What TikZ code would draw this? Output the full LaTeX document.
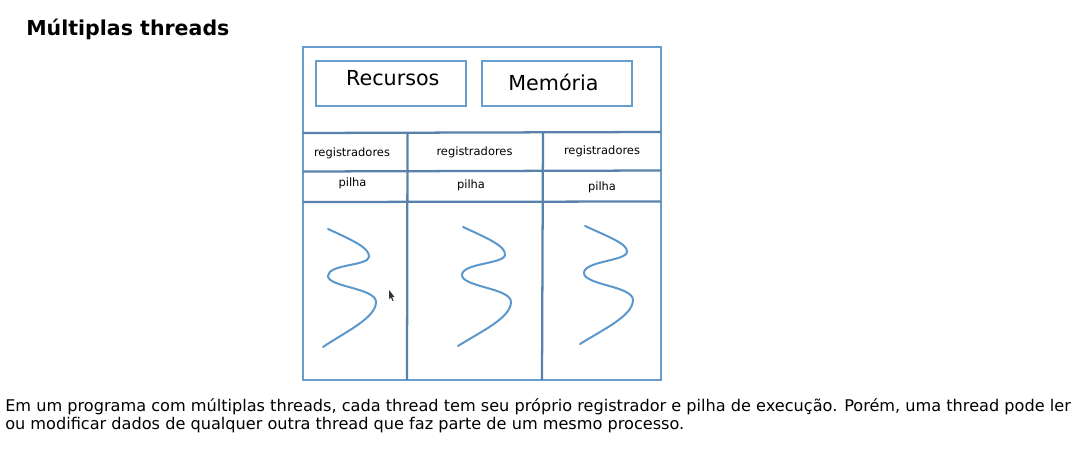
\documentclass[tikz,border=0pt]{standalone}
\usepackage{fontspec}
\setmainfont{DejaVu Sans}
\begin{document}
\begin{tikzpicture}[x=0.75pt,y=-0.75pt,
  boxline/.style={draw=boxblue,line width=1.6pt},
  divline/.style={draw=divblue,line width=1.7pt},
  squig/.style={draw=squigblue,line width=1.5pt,line cap=round},
  bigbox/.style={draw=boxblue,line width=1.5pt,minimum width=112.5pt,minimum height=33.75pt,inner sep=0pt},
  bigtext/.style={font=\fontsize{15.5}{17}\selectfont},
  smalltext/.style={font=\fontsize{8.6}{10}\selectfont,inner sep=0pt},
]
\definecolor{boxblue}{RGB}{104,158,206}
\definecolor{divblue}{RGB}{88,130,172}
\definecolor{squigblue}{RGB}{92,152,204}
\useasboundingbox (0,0) rectangle (1085,453);
% title
\node[anchor=west,inner sep=0pt,font=\bfseries\fontsize{15.4}{17}\selectfont] (title) at (26,29) {Múltiplas threads};
% outer frame
\draw[boxline] (303,47) rectangle (661,380);
% top boxes
\node[bigbox] (recbox) at (391,83.5) {};
\node[bigbox] (membox) at (557,83.5) {};
\node[bigtext,inner sep=0pt] (rec) at (392.8,78.3) {Recursos};
\node[bigtext,inner sep=0pt] (mem) at (553.5,82.7) {Memória};
% row dividers
\draw[divline] (303,133) -- (661,132);
\draw[divline] (303,171.5) -- (661,170.5);
\draw[divline] (303,202) -- (661,201.5);
% column dividers
\draw[divline] (407.5,134) -- (407,380);
\draw[divline] (543,133) -- (542,380);
% labels
\node[smalltext] (r1) at (352,153.5) {registradores};
\node[smalltext] (r2) at (474.5,152.5) {registradores};
\node[smalltext] (r3) at (602,151.5) {registradores};
\node[smalltext] (p1) at (352.5,183.5) {pilha};
\node[smalltext] (p2) at (471,185.5) {pilha};
\node[smalltext] (p3) at (602,187) {pilha};
% squiggles
\draw[squig] (328,229) .. controls (352,240) and (370,248) .. (369,257)
  .. controls (368,266) and (328,264) .. (328,276)
  .. controls (328,287) and (376,288) .. (376,302)
  .. controls (376,318) and (345,332) .. (323,347);
\draw[squig] (463,227) .. controls (487,238) and (506,246) .. (505,255)
  .. controls (504,264) and (462,263) .. (462,275)
  .. controls (462,287) and (511,288) .. (511,302)
  .. controls (511,318) and (480,332) .. (458,346);
\draw[squig] (585,226) .. controls (609,237) and (628,244) .. (627,252)
  .. controls (626,261) and (584,261) .. (584,273)
  .. controls (584,285) and (633,286) .. (633,300)
  .. controls (633,316) and (602,330) .. (580,344);
% cursor
\fill[black!80] (389,290) -- (389,299) -- (391,297.5) -- (392.5,301) -- (393.5,300.5) -- (392,297) -- (394.5,297) -- cycle;
% caption
\node[anchor=north west,inner sep=0pt,align=left,font=\fontsize{12.1}{13.5}\selectfont] (cap) at (5,398) {Em um programa com múltiplas threads, cada thread tem seu próprio registrador e pilha de execução. Porém, uma thread pode ler\\ou modificar dados de qualquer outra thread que faz parte de um mesmo processo.};
\end{tikzpicture}
\end{document}
